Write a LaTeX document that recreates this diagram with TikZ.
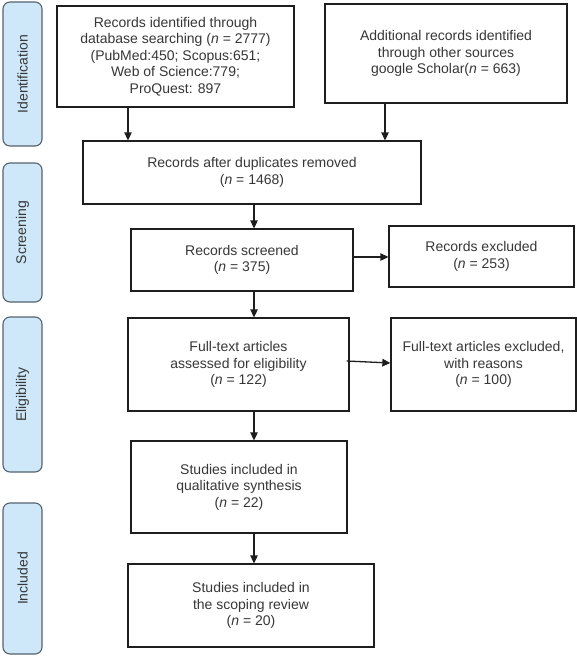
\documentclass[tikz,border=0pt]{standalone}
\usepackage{fontspec}
\setmainfont{Liberation Sans}
\usetikzlibrary{arrows.meta}
\definecolor{sideblue}{RGB}{206,232,249}
\definecolor{sidegray}{RGB}{85,98,110}
\definecolor{txt}{RGB}{55,55,55}
\definecolor{edge}{RGB}{30,30,30}
\begin{document}
\begin{tikzpicture}[x=1pt,y=-1pt,
  box/.style={draw=edge, line width=1.3pt, fill=white, align=center, text=txt, inner sep=2pt,
    font=\fontsize{14}{16.5}\selectfont},
  side/.style={draw=sidegray, line width=1.1pt, fill=sideblue, rounded corners=7pt, rotate=90,
    text=txt, font=\fontsize{14}{16.5}\selectfont},
  arr/.style={draw=edge, line width=1.3pt, -{Triangle[length=8pt,width=7.5pt]}}]
\useasboundingbox (0,0) rectangle (577,656);
\fill[white] (0,0) rectangle (577,656);
% sidebars
\node[side, minimum width=144pt, minimum height=39pt] (s1) at (22.5,74) {Identification};
\node[side, minimum width=139pt, minimum height=39pt] (s2) at (22.5,232.5) {Screening};
\node[side, minimum width=155pt, minimum height=39pt] (s3) at (22.5,394.5) {Eligibility};
\node[side, minimum width=151pt, minimum height=39pt] (s4) at (22.5,578.5) {Included};
% boxes
\node[box, minimum width=237pt, minimum height=101pt] (A) at (175.5,56.5)
  {Records identified through\\database searching (\textit{n} = 2777)\\(PubMed:450; Scopus:651;\\Web of Science:779;\\ProQuest: 897};
\node[box, minimum width=242pt, minimum height=99pt] (B) at (446,53.5)
  {Additional records identified\\through other sources\\google Scholar(\textit{n} = 663)};
\node[box, minimum width=338pt, minimum height=63pt] (C) at (252,172.5)
  {Records after duplicates removed\\(\textit{n} = 1468)};
\node[box, minimum width=222pt, minimum height=62pt] (D) at (242,260)
  {Records screened\\(\textit{n} = 375)};
\node[box, minimum width=185pt, minimum height=61pt] (E) at (481.5,256.5)
  {Records excluded\\(\textit{n} = 253)};
\node[box, minimum width=221pt, minimum height=93pt] (F) at (238.5,364.5)
  {Full-text articles\\assessed for eligibility\\(\textit{n} = 122)};
\node[box, minimum width=185pt, minimum height=93pt] (G) at (483.5,364.5)
  {Full-text articles excluded,\\with reasons\\(\textit{n} = 100)};
\node[box, minimum width=216pt, minimum height=92pt] (H) at (239,487)
  {Studies included in\\qualitative synthesis\\(\textit{n} = 22)};
\node[box, minimum width=246pt, minimum height=83pt] (I) at (251,605.5)
  {Studies included in\\the scoping review\\(\textit{n} = 20)};
% connectors
\coordinate (ax) at (254,0);
\coordinate (ey) at (0,257);
\draw[arr] ([xshift=-47.5pt]A.south) -- ([xshift=-47.5pt]A.south |- C.north);
\draw[arr] ([xshift=-61pt]B.south) -- ([xshift=-61pt]B.south |- C.north);
\draw[arr] (C.south -| ax) -- (D.north -| ax);
\draw[arr] (D.east |- ey) -- (E.west |- ey);
\draw[arr] (D.south -| ax) -- (F.north -| ax);
\draw[arr] ([xshift=-3pt,yshift=3.5pt]F.east) -- ([yshift=1.5pt]G.west);
\draw[arr] (F.south -| ax) -- (H.north -| ax);
\draw[arr] (H.south -| ax) -- (I.north -| ax);
\end{tikzpicture}
\end{document}
